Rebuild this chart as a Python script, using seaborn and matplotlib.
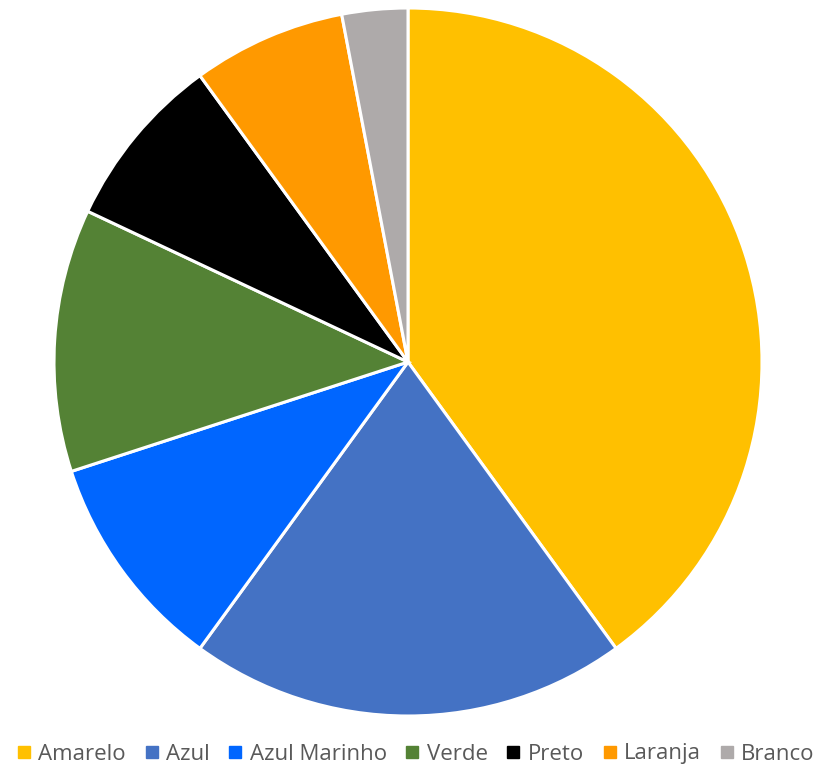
import matplotlib
matplotlib.use("Agg")
import matplotlib.pyplot as plt
from matplotlib.lines import Line2D
import seaborn as sns

categories = ["Amarelo", "Azul", "Azul Marinho", "Verde", "Preto", "Laranja", "Branco"]
values = [40, 20, 10, 12, 8, 7, 3]
colors = ["#FFC000", "#4472C4", "#0066FF", "#548235", "#000000", "#FF9900", "#AEAAAA"]

sns.set_theme(style="white")
plt.rcParams["font.family"] = ["Open Sans", "DejaVu Sans"]

W, H = 825, 767
fig = plt.figure(figsize=(W / 100, H / 100), dpi=100)
cx, cy, r = 408, 362, 354
ax = fig.add_axes([(cx - r) / W, (H - cy - r) / H, 2 * r / W, 2 * r / H])
ax.pie(values, colors=sns.color_palette(colors), startangle=90, counterclock=False,
       radius=1, wedgeprops=dict(edgecolor="white", linewidth=2.2))
ax.set_xlim(-1, 1)
ax.set_ylim(-1, 1)
ax.set_aspect("equal")
ax.axis("off")

handles = [Line2D([0], [0], marker="s", linestyle="none", markersize=8,
                  markerfacecolor=c, markeredgecolor=c) for c in colors]
fig.legend(handles, categories, loc="center", bbox_to_anchor=(416 / W, 1 - 754 / H),
           ncol=len(categories), frameon=False, fontsize=16, handlelength=0.6,
           handletextpad=0.35, columnspacing=0.85, labelcolor="#595959")

fig.savefig("out.png", dpi=100)
